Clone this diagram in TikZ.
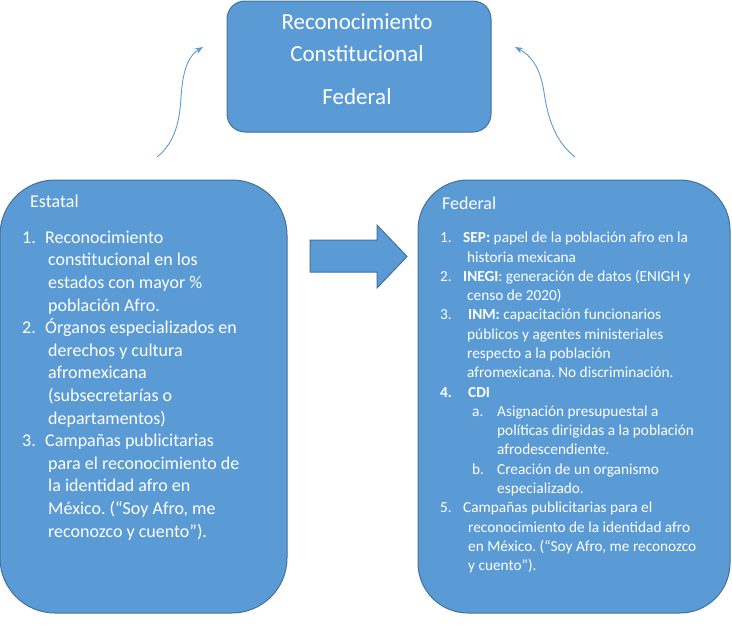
\documentclass[tikz,border=0pt]{standalone}
\usepackage{fontspec}
\setmainfont{Carlito}
\usetikzlibrary{arrows.meta}
\definecolor{fillblue}{HTML}{5B9BD5}
\definecolor{edgeblue}{HTML}{41719C}
\newcommand\mylab[2]{\makebox[#1][l]{#2}}
\frenchspacing
\begin{document}
\begin{tikzpicture}[x=1pt,y=-1pt,
  box/.style={draw=edgeblue, fill=fillblue, line width=1pt, inner sep=0pt},
  wtext/.style={text=white, inner sep=0pt},
  curv/.style={draw=fillblue, line width=0.9pt, -{Stealth[length=8pt,width=6pt]}}]
\useasboundingbox (0,0) rectangle (732,629);

% top box
\node[box, rounded corners=18pt, minimum width=264pt, minimum height=131pt] (top) at (359,66.5) {};
\node[wtext, anchor=base, font=\fontsize{23}{28}\selectfont] (t1) at (357,30) {Reconocimiento};
\node[wtext, anchor=base, font=\fontsize{23}{28}\selectfont] (t2) at (357,61.7) {Constitucional};
\node[wtext, anchor=base, font=\fontsize{23}{28}\selectfont] (t3) at (357,104) {Federal};

% side boxes
\node[box, rounded corners=55pt, minimum width=287pt, minimum height=433pt] (left) at (143.5,396.5) {};
\node[box, rounded corners=50pt, minimum width=312pt, minimum height=433pt] (right) at (574,396.5) {};

% block arrow
\draw[box] (310,240) -- (377,240) -- (377,225) -- (407,256.5) -- (377,288) -- (377,272) -- (310,272) -- cycle;

% curved arrows
\coordinate (la) at (157,157);
\coordinate (lb) at (203,47);
\coordinate (ra) at (575,157);
\coordinate (rb) at (515,47);
\draw[curv] (la) .. controls (176,142) and (180,118) .. (181,97) .. controls (183,66) and (190,55) .. (lb);
\draw[curv] (ra) .. controls (556,142) and (548,120) .. (544,92) .. controls (540,66) and (530,55) .. (rb);

% left text
\node[wtext, anchor=base west, font=\fontsize{18}{22}\selectfont] (lh) at (30,207.3) {Estatal};
\node[wtext, anchor=base west, font=\fontsize{18}{22.6}\selectfont] (ll) at (22,243.3) {%
\begin{tabular}[t]{@{}p{23pt}@{}l@{}}
1. & Reconocimiento\\
 & \hspace*{3pt}constitucional en los\\
 & \hspace*{3pt}estados con mayor \%\\
 & \hspace*{3pt}población Afro.\\
2. & Órganos especializados en\\
 & \hspace*{3pt}derechos y cultura\\
 & \hspace*{3pt}afromexicana\\
 & \hspace*{3pt}(subsecretarías o\\
 & \hspace*{3pt}departamentos)\\
3. & Campañas publicitarias\\
 & \hspace*{3pt}para el reconocimiento de\\
 & \hspace*{3pt}la identidad afro en\\
 & \hspace*{3pt}México. (“Soy Afro, me\\
 & \hspace*{3pt}reconozco y cuento”).
\end{tabular}};

% right text
\node[wtext, anchor=base west, font=\fontsize{18}{22}\selectfont] (rh) at (442,209.3) {Federal};
\node[wtext, anchor=base west, font=\fontsize{15.3}{19.3}\selectfont] (rl) at (440,242.7) {%
\begin{tabular}[t]{@{}l@{}}
\mylab{23pt}{1.}\textbf{SEP:} papel de la población afro en la\\
\hspace*{27pt}historia mexicana\\
\mylab{23pt}{2.}\textbf{INEGI}: generación de datos (ENIGH y\\
\hspace*{27pt}censo de 2020)\\
\mylab{28pt}{3.}\textbf{INM:} capacitación funcionarios\\
\hspace*{27pt}públicos y agentes ministeriales\\
\hspace*{27pt}respecto a la población\\
\hspace*{27pt}afromexicana. No discriminación.\\
\mylab{28pt}{\textbf{4.}}\textbf{CDI}\\
\hspace*{32pt}\mylab{25pt}{a.}Asignación presupuestal a\\
\hspace*{57pt}políticas dirigidas a la población\\
\hspace*{57pt}afrodescendiente.\\
\hspace*{32pt}\mylab{25pt}{b.}Creación de un organismo\\
\hspace*{57pt}especializado.\\
\mylab{23pt}{5.}Campañas publicitarias para el\\
\hspace*{28pt}reconocimiento de la identidad afro\\
\hspace*{28pt}en México. (“Soy Afro, me reconozco\\
\hspace*{28pt}y cuento”).
\end{tabular}};
\end{tikzpicture}
\end{document}
